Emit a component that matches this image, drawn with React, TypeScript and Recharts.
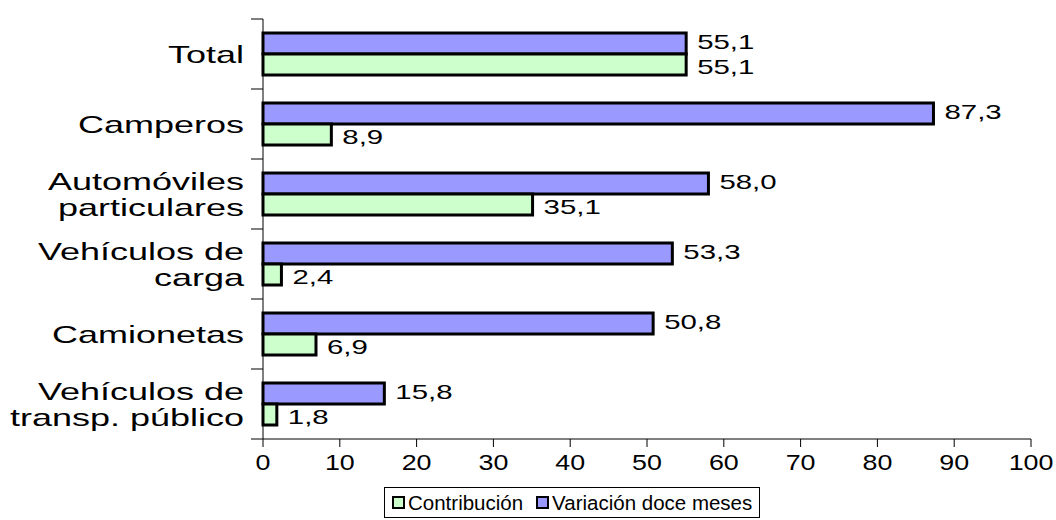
import { BarChart, Bar, XAxis, YAxis, LabelList } from "recharts";

// data
const categories = [
  "Total",
  "Camperos",
  "Automóviles\nparticulares",
  "Vehículos de\ncarga",
  "Camionetas",
  "Vehículos de\ntransp. público",
];
const variacion = [55.1, 87.3, 58.0, 53.3, 50.8, 15.8];
const contribucion = [55.1, 8.9, 35.1, 2.4, 6.9, 1.8];
const xTicks = [0, 10, 20, 30, 40, 50, 60, 70, 80, 90, 100];

const W = 1056;
const H = 520;
const M = { top: 19, right: 25, bottom: 41, left: 0 };
const X_AXIS_H = 40;
const BAND = (H - M.top - M.bottom - X_AXIS_H) / categories.length;
const FONT = "'Liberation Sans', Arial, sans-serif";
const BLUE = "#9999FF";
const GREEN = "#CCFFCC";

const data = categories.map((c, i) => ({
  name: c,
  variacion: variacion[i],
  contribucion: contribucion[i],
}));

const fmt = (v: number) => v.toFixed(1).replace(".", ",");

// category labels: wide, stretched text like the original export
const CategoryTick = (props: any) => {
  const { x, y, payload, index } = props;
  const lines = String(payload.value).split("\n");
  const lh = 26;
  return (
    <g>
      <line x1={x - 12} x2={x} y1={y - BAND / 2} y2={y - BAND / 2} stroke="#000" />
      {index === categories.length - 1 && (
        <line x1={x - 12} x2={x} y1={y + BAND / 2} y2={y + BAND / 2} stroke="#000" />
      )}
      {lines.map((l, i) => (
        <text
          key={i}
          transform={`translate(${x - 19},${y + (i - (lines.length - 1) / 2) * lh}) scale(1.5,1)`}
          dy="0.36em"
          textAnchor="end"
          fontSize={24}
          fontFamily={FONT}
          fill="#000"
        >
          {l}
        </text>
      ))}
    </g>
  );
};

const NumTick = (props: any) => {
  const { x, y, payload } = props;
  return (
    <text
      transform={`translate(${x},${y}) scale(1.22,1)`}
      dy={21}
      textAnchor="middle"
      fontSize={22}
      fontFamily={FONT}
      fill="#000"
    >
      {payload.value}
    </text>
  );
};

const makeLabel = (shift: number) => (props: any) => {
  const { x, y, width, height, value } = props;
  return (
    <text
      transform={`translate(${x + width + 11},${y + height / 2 + shift}) scale(1.4,1)`}
      dy="0.36em"
      fontSize={21}
      fontFamily={FONT}
      fill="#000"
    >
      {fmt(value)}
    </text>
  );
};
const TopLabel = makeLabel(-2);
const BottomLabel = makeLabel(2);

const LegendKey = ({ color, label }: { color: string; label: string }) => (
  <span style={{ display: "flex", alignItems: "center", marginRight: 13 }}>
    <span
      style={{
        width: 9,
        height: 9,
        background: color,
        border: "2px solid #000",
        marginRight: 3,
      }}
    />
    <span style={{ whiteSpace: "nowrap" }}>{label}</span>
  </span>
);

export default function App() {
  return (
    <div style={{ position: "absolute", left: 0, top: 0, width: W, height: H, background: "#fff" }}>
      <BarChart
        width={W}
        height={H}
        data={data}
        layout="vertical"
        margin={M}
        barGap={0}
        barSize={21}
      >
        <XAxis
          type="number"
          domain={[0, 100]}
          ticks={xTicks}
          interval={0}
          height={X_AXIS_H}
          tickSize={8}
          tickMargin={2}
          axisLine={{ stroke: "#000" }}
          tickLine={{ stroke: "#000" }}
          tick={<NumTick />}
        />
        <YAxis
          type="category"
          dataKey="name"
          width={263}
          interval={0}
          tickSize={0}
          tickMargin={0}
          tickLine={false}
          axisLine={{ stroke: "#000" }}
          tick={<CategoryTick />}
        />
        <Bar dataKey="variacion" name="Variación doce meses" fill={BLUE} stroke="#000" strokeWidth={3} isAnimationActive={false}>
          <LabelList dataKey="variacion" content={<TopLabel />} />
        </Bar>
        <Bar dataKey="contribucion" name="Contribución" fill={GREEN} stroke="#000" strokeWidth={3} isAnimationActive={false}>
          <LabelList dataKey="contribucion" content={<BottomLabel />} />
        </Bar>
      </BarChart>
      <div
        style={{
          position: "absolute",
          left: 384,
          top: 487,
          width: 376,
          height: 31,
          border: "1px solid #000",
          boxSizing: "border-box",
          display: "flex",
          alignItems: "center",
          paddingLeft: 7,
          fontFamily: FONT,
          fontSize: 20.5,
        }}
      >
        <LegendKey color={GREEN} label="Contribución" />
        <LegendKey color={BLUE} label="Variación doce meses" />
      </div>
    </div>
  );
}
